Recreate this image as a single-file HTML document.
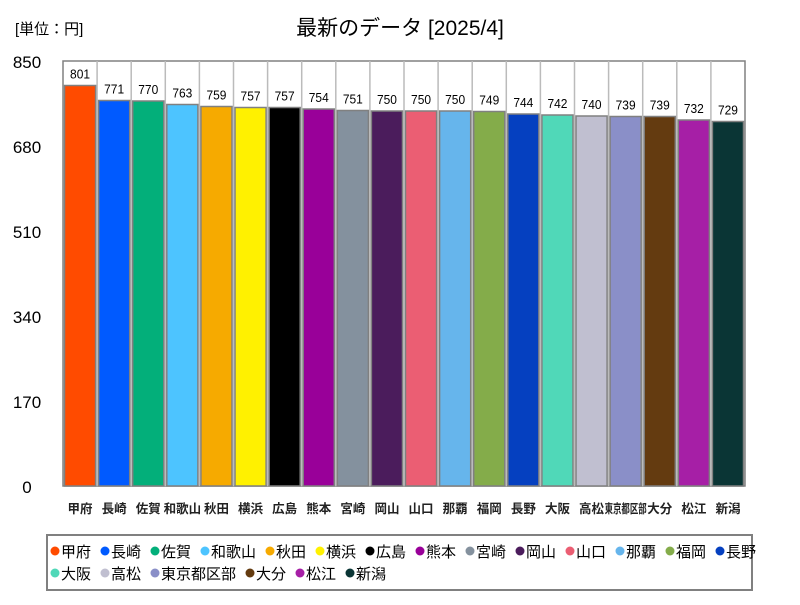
<!DOCTYPE html>
<html><head><meta charset="utf-8">
<style>
body{margin:0;background:#fff;}
svg text{font-family:"Liberation Sans","Noto Sans CJK JP",sans-serif;}
</style></head>
<body>
<svg id="chart" width="800" height="600" viewBox="0 0 800 600" xmlns="http://www.w3.org/2000/svg">
<rect width="800" height="600" fill="#fff"/>
<text x="15" y="34" font-size="15" fill="#000">[単位：円]</text>
<text x="400" y="35" font-size="21" text-anchor="middle" fill="#000">最新のデータ [2025/4]</text>
<g id="plot"></g>
<rect x="47" y="535" width="705" height="55" fill="#fff" stroke="#808080" stroke-width="2"/>
<g id="legend"></g>
</svg>
<script>
const categories=["甲府","長崎","佐賀","和歌山","秋田","横浜","広島","熊本","宮崎","岡山","山口","那覇","福岡","長野","大阪","高松","東京都区部","大分","松江","新潟"];
const values=[801,771,770,763,759,757,757,754,751,750,750,750,749,744,742,740,739,739,732,729];
const colors=["#ff4b00","#005aff","#03af7a","#4dc4ff","#f6aa00","#fff100","#000000","#990099","#84919e","#4b1c5c","#eb5e73","#66b5ec","#84ac4a","#0540c0","#50d8b8","#c0bfd0","#8a8fc8","#643b10","#a61fa6","#0a3535"];
const yTicks=[0,170,340,510,680,850];
const NS="http://www.w3.org/2000/svg";
const L=63,R=745,T=61,B=486,yMax=850;
const slot=(R-L)/categories.length;
const y=v=>B-(v/yMax)*(B-T);
const xs=i=>L+i*slot;
const plot=document.getElementById('plot');
function mk(tag,attrs,parent){const e=document.createElementNS(NS,tag);for(const k in attrs)e.setAttribute(k,attrs[k]);parent.appendChild(e);return e;}
const frame=mk('rect',{x:L,y:T,width:R-L,height:B-T,fill:'#fff',stroke:'#808080','stroke-width':1.5},plot);


for(let i=1;i<categories.length;i++){
  const g=mk('line',{x1:xs(i),x2:xs(i),y1:T,y2:B,stroke:'#bbb','stroke-width':1.5},plot);
  
  
}
yTicks.forEach(t=>{
  const tx=mk('text',{x:27,y:y(t)+7,'font-size':17,'text-anchor':'middle',fill:'#000'},plot);
  tx.textContent=t;
  
  
});
categories.forEach((c,i)=>{
  const b=mk('rect',{x:xs(i)+1.5,y:y(values[i]),width:slot-3,height:B-y(values[i]),fill:colors[i],stroke:'#808080','stroke-width':1.5},plot);
  
  
  const v=mk('text',{x:xs(i)+slot/2,y:y(values[i])-7,'font-size':13,'text-anchor':'middle',fill:'#000',textLength:20,lengthAdjust:'spacingAndGlyphs'},plot);
  v.textContent=values[i];
  
  
  const lab=mk('text',{x:xs(i)+slot/2,y:513,'font-size':12.5,'font-weight':'bold','text-anchor':'middle',fill:'#222'},plot);
  lab.textContent=c;
  if(c.length>3){lab.setAttribute('textLength',slot+8);lab.setAttribute('lengthAdjust','spacingAndGlyphs');}
  
  
});
const leg=document.getElementById('legend');
let lx=55,ly=551;
categories.forEach((c,i)=>{
  const w=20+c.length*15;
  if(lx>735){lx=55;ly+=22;}
  const d=mk('circle',{cx:lx,cy:ly,r:4.5,fill:colors[i]},leg);
  
  
  const t=mk('text',{x:lx+6,y:ly+6,'font-size':15,fill:'#000'},leg);
  t.textContent=c;
  
  
  lx+=w;
});
</script>
</body></html>
